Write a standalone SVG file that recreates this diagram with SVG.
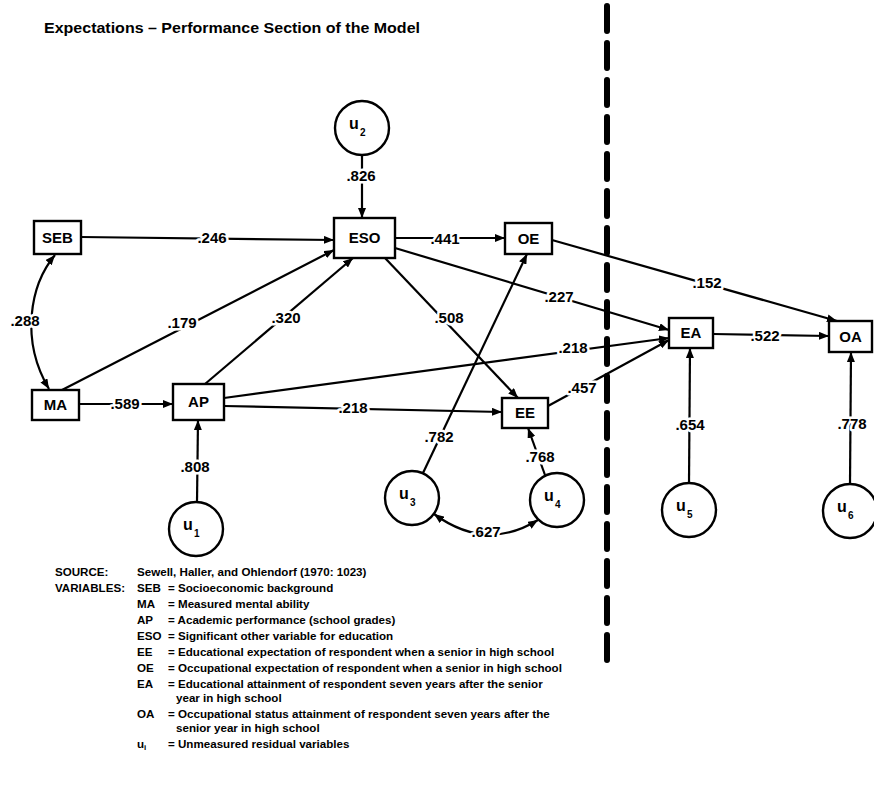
<svg xmlns="http://www.w3.org/2000/svg" width="874" height="811" viewBox="0 0 874 811">
<style>
text{font-family:"Liberation Sans",Arial,sans-serif;font-weight:bold;fill:#000}
.box{fill:#fff;stroke:#000;stroke-width:2.4}
.circ{fill:#fff;stroke:#000;stroke-width:2.4}
.nl{font-size:15px;text-anchor:middle}
.u{font-size:16px}
.sub{font-size:10px}
.ln{fill:none;stroke:#000;stroke-width:2.2}
.lb{font-size:15px;text-anchor:middle;stroke:#fff;stroke-width:5;paint-order:stroke fill;stroke-linejoin:round}
.lg{font-size:11.6px}
.title{font-size:15px}
</style>
<defs>
<marker id="ah" viewBox="0 0 10 8" refX="10" refY="4" markerWidth="10" markerHeight="8" markerUnits="userSpaceOnUse" orient="auto-start-reverse">
<path d="M0,0 L10,4 L0,8 z" fill="#000"/>
</marker>
</defs>
<text class="title" x="44" y="33" textLength="376" lengthAdjust="spacingAndGlyphs">Expectations – Performance Section of the Model</text>
<line x1="607" y1="6" x2="607" y2="668" stroke="#000" stroke-width="6" stroke-dasharray="25 12" stroke-linecap="round"/>
<g id="connectors">
<line class="ln" x1="81" y1="237" x2="334" y2="240" marker-end="url(#ah)"/>
<line class="ln" x1="362" y1="155" x2="362" y2="218" marker-end="url(#ah)"/>
<line class="ln" x1="395" y1="238" x2="505" y2="238" marker-end="url(#ah)"/>
<line class="ln" x1="62" y1="390" x2="334" y2="250" marker-end="url(#ah)"/>
<line class="ln" x1="205" y1="384" x2="353" y2="258" marker-end="url(#ah)"/>
<path class="ln" d="M55,255 C30,285 20,340 49,389" marker-start="url(#ah)" marker-end="url(#ah)"/>
<line class="ln" x1="79" y1="404" x2="173" y2="404" marker-end="url(#ah)"/>
<line class="ln" x1="197" y1="502" x2="198" y2="420" marker-end="url(#ah)"/>
<line class="ln" x1="224" y1="406" x2="502" y2="412" marker-end="url(#ah)"/>
<line class="ln" x1="224" y1="398" x2="669" y2="338" marker-end="url(#ah)"/>
<line class="ln" x1="385" y1="258" x2="518" y2="398" marker-end="url(#ah)"/>
<line class="ln" x1="423" y1="473" x2="527" y2="254" marker-end="url(#ah)"/>
<line class="ln" x1="395" y1="248" x2="669" y2="330" marker-end="url(#ah)"/>
<line class="ln" x1="548" y1="406" x2="669" y2="340" marker-end="url(#ah)"/>
<line class="ln" x1="552" y1="240" x2="837" y2="321" marker-end="url(#ah)"/>
<line class="ln" x1="713" y1="334" x2="829" y2="336" marker-end="url(#ah)"/>
<line class="ln" x1="545" y1="475" x2="528" y2="428" marker-end="url(#ah)"/>
<line class="ln" x1="689" y1="483" x2="690" y2="348" marker-end="url(#ah)"/>
<line class="ln" x1="850" y1="484" x2="851" y2="352" marker-end="url(#ah)"/>
<path class="ln" d="M434,514 Q486,552 538,520" marker-start="url(#ah)" marker-end="url(#ah)"/>
<text class="lb" x="212" y="243">.246</text>
<text class="lb" x="361" y="181">.826</text>
<text class="lb" x="445" y="244">.441</text>
<text class="lb" x="182" y="328">.179</text>
<text class="lb" x="286" y="323">.320</text>
<text class="lb" x="25" y="326">.288</text>
<text class="lb" x="125" y="409">.589</text>
<text class="lb" x="195" y="472">.808</text>
<text class="lb" x="353" y="413">.218</text>
<text class="lb" x="573" y="353">.218</text>
<text class="lb" x="449" y="323">.508</text>
<text class="lb" x="439" y="442">.782</text>
<text class="lb" x="559" y="302">.227</text>
<text class="lb" x="582" y="393">.457</text>
<text class="lb" x="707" y="288">.152</text>
<text class="lb" x="765" y="341">.522</text>
<text class="lb" x="540" y="462">.768</text>
<text class="lb" x="690" y="430">.654</text>
<text class="lb" x="852" y="429">.778</text>
<text class="lb" x="486" y="537">.627</text>
</g>
<g id="SEB"><rect class="box" x="34" y="221" width="47" height="33"/><text class="nl" x="57.5" y="243">SEB</text></g>
<g id="ESO"><rect class="box" x="334" y="218" width="61" height="40"/><text class="nl" x="364.5" y="243">ESO</text></g>
<g id="OE"><rect class="box" x="505" y="223" width="47" height="31"/><text class="nl" x="528.5" y="244">OE</text></g>
<g id="MA"><rect class="box" x="32" y="390" width="47" height="30"/><text class="nl" x="55.5" y="410">MA</text></g>
<g id="AP"><rect class="box" x="173" y="384" width="51" height="36"/><text class="nl" x="198.5" y="407">AP</text></g>
<g id="EE"><rect class="box" x="502" y="398" width="46" height="30"/><text class="nl" x="525" y="418">EE</text></g>
<g id="EA"><rect class="box" x="669" y="318" width="44" height="30"/><text class="nl" x="691" y="338">EA</text></g>
<g id="OA"><rect class="box" x="829" y="321" width="43" height="31"/><text class="nl" x="850.5" y="342">OA</text></g>
<g id="u2"><circle class="circ" cx="362" cy="128" r="27"/><text class="u" x="349" y="129">u</text><text class="sub" x="360" y="136">2</text></g>
<g id="u1"><circle class="circ" cx="196" cy="529" r="27"/><text class="u" x="183" y="530">u</text><text class="sub" x="194" y="537">1</text></g>
<g id="u3"><circle class="circ" cx="412" cy="498" r="27"/><text class="u" x="399" y="499">u</text><text class="sub" x="410" y="506">3</text></g>
<g id="u4"><circle class="circ" cx="557" cy="500" r="27"/><text class="u" x="544" y="501">u</text><text class="sub" x="555" y="508">4</text></g>
<g id="u5"><circle class="circ" cx="689" cy="510" r="27"/><text class="u" x="676" y="511">u</text><text class="sub" x="687" y="518">5</text></g>
<g id="u6"><circle class="circ" cx="850" cy="511" r="27"/><text class="u" x="837" y="512">u</text><text class="sub" x="848" y="519">6</text></g>
<g id="legend">
<text class="lg" x="55" y="576">SOURCE:</text>
<text class="lg" x="137" y="576">Sewell, Haller, and Ohlendorf (1970: 1023)</text>
<text class="lg" x="55" y="592">VARIABLES:</text>
<text class="lg" x="137" y="592">SEB</text><text class="lg" x="168" y="592">= Socioeconomic background</text>
<text class="lg" x="137" y="608">MA</text><text class="lg" x="168" y="608">= Measured mental ability</text>
<text class="lg" x="137" y="624">AP</text><text class="lg" x="168" y="624">= Academic performance (school grades)</text>
<text class="lg" x="137" y="640">ESO</text><text class="lg" x="168" y="640">= Significant other variable for education</text>
<text class="lg" x="137" y="656">EE</text><text class="lg" x="168" y="656">= Educational expectation of respondent when a senior in high school</text>
<text class="lg" x="137" y="672">OE</text><text class="lg" x="168" y="672">= Occupational expectation of respondent when a senior in high school</text>
<text class="lg" x="137" y="688">EA</text><text class="lg" x="168" y="688">= Educational attainment of respondent seven years after the senior</text>
<text class="lg" x="176" y="702">year in high school</text>
<text class="lg" x="137" y="718">OA</text><text class="lg" x="168" y="718">= Occupational status attainment of respondent seven years after the</text>
<text class="lg" x="176" y="732">senior year in high school</text>
<text class="lg" x="137" y="748">u<tspan font-size="8" dy="2">i</tspan></text><text class="lg" x="168" y="748">= Unmeasured residual variables</text>
</g>
</svg>
